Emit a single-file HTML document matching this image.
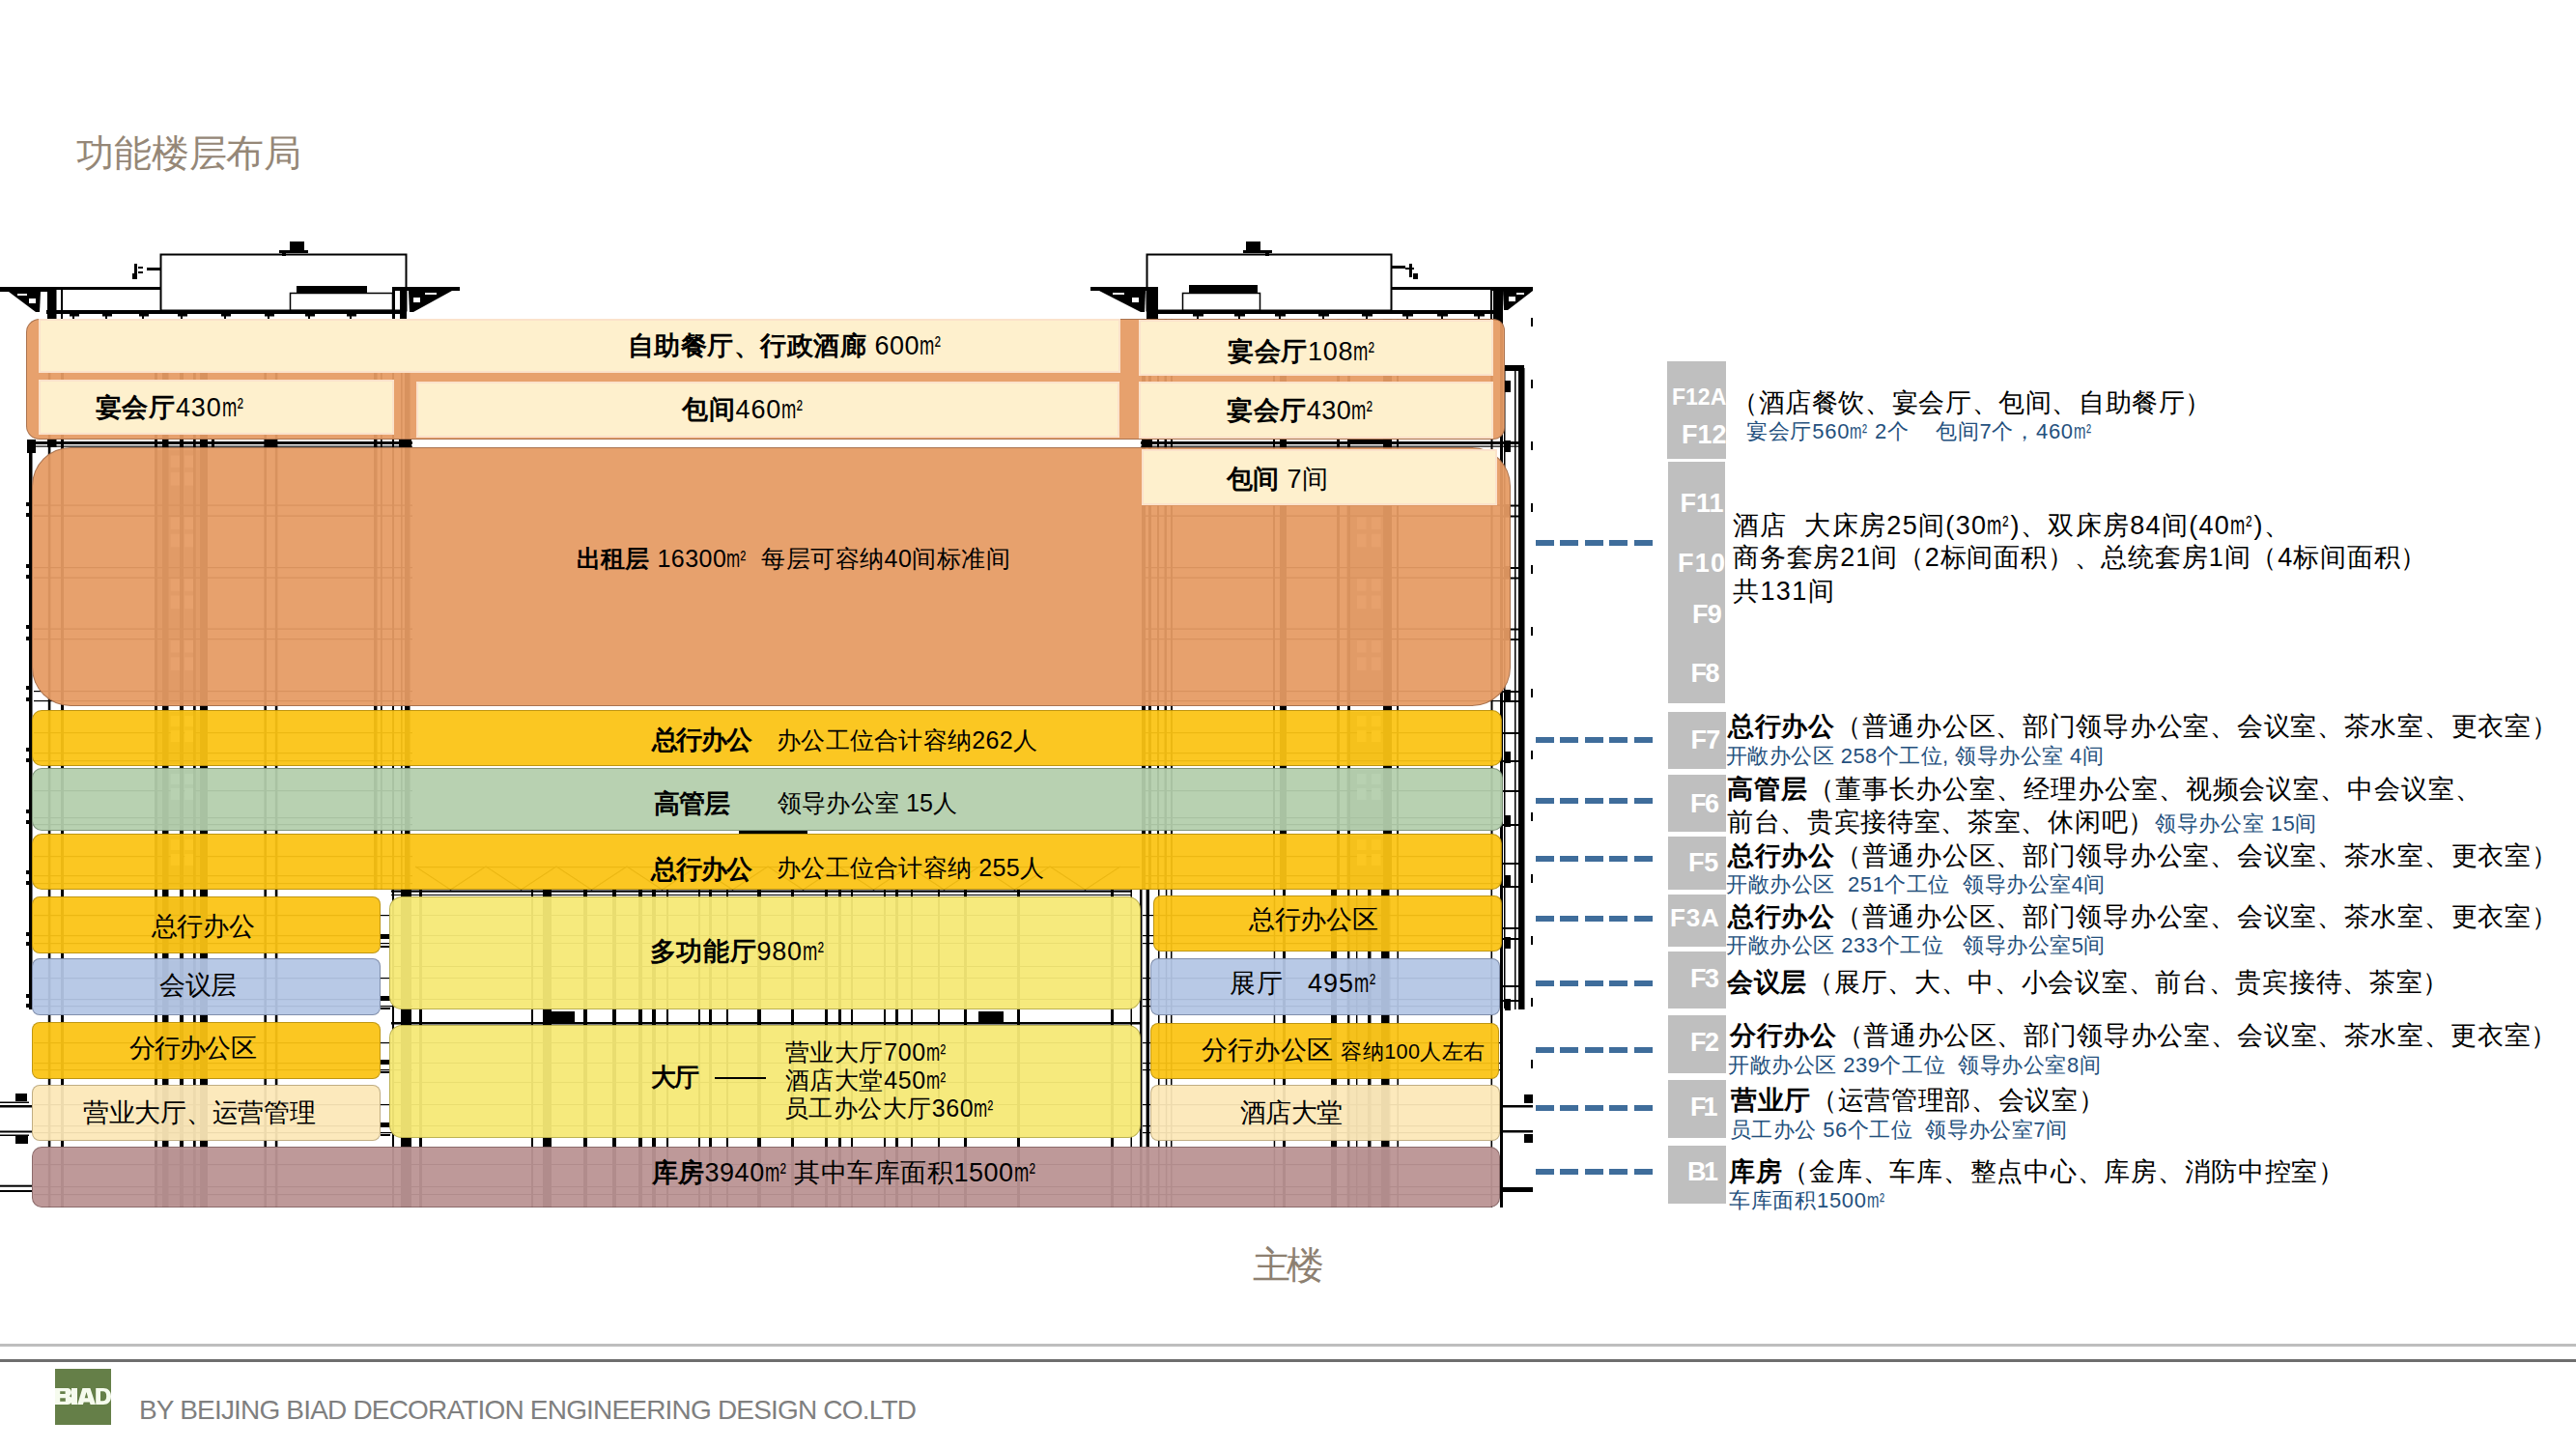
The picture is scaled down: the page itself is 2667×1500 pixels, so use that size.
<!DOCTYPE html>
<html><head><meta charset="utf-8">
<style>
html,body{margin:0;padding:0;}
body{width:2667px;height:1500px;position:relative;overflow:hidden;background:#fff;font-family:"Liberation Sans",sans-serif;color:#000;}
.a{position:absolute;}
.t{position:absolute;white-space:nowrap;line-height:1;}
.b{position:absolute;box-sizing:border-box;}
.or{background:rgba(230,155,100,0.94);border:1px solid rgba(110,70,50,0.5);}
.cr{background:#FEF0CD;border:2px solid #FBE2CB;}
.ye{background:rgba(251,195,20,0.94);border:1px solid rgba(120,90,0,0.45);}
.gr{background:rgba(180,206,172,0.94);border:1px solid rgba(60,80,60,0.45);}
.bl{background:rgba(180,198,228,0.94);border:1px solid rgba(60,70,100,0.45);}
.py{background:rgba(246,233,118,0.95);border:1px solid rgba(120,110,30,0.45);}
.lc{background:rgba(252,232,184,0.94);border:1px solid rgba(120,100,60,0.45);}
.mv{background:rgba(186,148,148,0.95);border:1px solid rgba(80,50,50,0.45);}
.gl{position:absolute;background:#BFBFBF;}
.FL{color:#fff;font-weight:bold;}
.BT,.bt{color:#24507D;}
.m2{display:inline-block;transform:scaleX(0.68);transform-origin:0 0;margin-right:-0.37em;font-family:"Liberation Sans",sans-serif;}
.dash{position:absolute;height:6px;width:121px;background:repeating-linear-gradient(90deg,#3F6D9B 0 18.8px,transparent 18.8px 25.5px);}
</style></head>
<body>
<svg class="a" style="left:0;top:0" width="2667" height="1500" viewBox="0 0 2667 1500"><g id="bld">
<rect x="0" y="297" width="166" height="3" fill="#000"/>
<rect x="406" y="297" width="70" height="3" fill="#000"/>
<rect x="0" y="297" width="58" height="5" fill="#000"/>
<path d="M9 302 L42 302 L41 323 L37 323 Z" fill="#000"/>
<rect x="30" y="309" width="7" height="5" fill="#fff"/>
<rect x="18" y="304" width="10" height="2" fill="#fff"/>
<rect x="49" y="297" width="9.5" height="35" fill="#000"/>
<rect x="63" y="300" width="2" height="32" fill="#000"/>
<rect x="166.5" y="263.5" width="254" height="58" fill="none" stroke="#000" stroke-width="2"/>
<rect x="48" y="321" width="373" height="4" fill="#000"/>
<rect x="406" y="297" width="3" height="35" fill="#000"/>
<rect x="414" y="297" width="7" height="35" fill="#000"/>
<rect x="300.5" y="303.5" width="106" height="18" fill="none" stroke="#000" stroke-width="1.5"/>
<rect x="307" y="296" width="73" height="7" fill="#000"/>
<rect x="289" y="259" width="30" height="3" fill="#000"/>
<rect x="300" y="250" width="15" height="10" fill="#000"/>
<rect x="292" y="262" width="4" height="3" fill="#000"/>
<rect x="139" y="273" width="3" height="16" fill="#000"/>
<rect x="143" y="276" width="5" height="2" fill="#000"/>
<rect x="143" y="281" width="5" height="2" fill="#000"/>
<rect x="152" y="277" width="14" height="3" fill="#000"/>
<rect x="137" y="283" width="3" height="6" fill="#000"/>
<rect x="406" y="297" width="70" height="4" fill="#000"/>
<path d="M468 301 L423 301 L424 323 L428 323 Z" fill="#000"/>
<rect x="428" y="308" width="7" height="5" fill="#fff"/>
<rect x="440" y="303" width="12" height="2" fill="#fff"/>
<rect x="72" y="325" width="10" height="2.5" fill="#000"/>
<rect x="75" y="325" width="2" height="5" fill="#000"/>
<rect x="106" y="325" width="10" height="2.5" fill="#000"/>
<rect x="109" y="325" width="2" height="5" fill="#000"/>
<rect x="144" y="325" width="10" height="2.5" fill="#000"/>
<rect x="147" y="325" width="2" height="5" fill="#000"/>
<rect x="184" y="325" width="10" height="2.5" fill="#000"/>
<rect x="187" y="325" width="2" height="5" fill="#000"/>
<rect x="229" y="325" width="10" height="2.5" fill="#000"/>
<rect x="232" y="325" width="2" height="5" fill="#000"/>
<rect x="274" y="325" width="10" height="2.5" fill="#000"/>
<rect x="277" y="325" width="2" height="5" fill="#000"/>
<rect x="316" y="325" width="10" height="2.5" fill="#000"/>
<rect x="319" y="325" width="2" height="5" fill="#000"/>
<rect x="359" y="325" width="10" height="2.5" fill="#000"/>
<rect x="362" y="325" width="2" height="5" fill="#000"/>
<rect x="1129" y="297" width="58" height="3" fill="#000"/>
<rect x="1441" y="297" width="144" height="3" fill="#000"/>
<rect x="1129" y="297" width="58" height="4" fill="#000"/>
<path d="M1138 301 L1186 301 L1185 323 L1181 323 Z" fill="#000"/>
<rect x="1172" y="308" width="7" height="5" fill="#fff"/>
<rect x="1152" y="303" width="12" height="2" fill="#fff"/>
<rect x="1187" y="297" width="12" height="35" fill="#000"/>
<rect x="1187.5" y="263.5" width="253" height="58" fill="none" stroke="#000" stroke-width="2"/>
<rect x="1187" y="321" width="369" height="4" fill="#000"/>
<rect x="1224.5" y="303.5" width="80" height="18" fill="none" stroke="#000" stroke-width="1.5"/>
<rect x="1231" y="295" width="71" height="8" fill="#000"/>
<rect x="1287" y="259" width="30" height="3" fill="#000"/>
<rect x="1290" y="250" width="15" height="10" fill="#000"/>
<rect x="1310" y="262" width="4" height="3" fill="#000"/>
<rect x="1441" y="275" width="14" height="3" fill="#000"/>
<rect x="1459" y="273" width="3" height="14" fill="#000"/>
<rect x="1455" y="277" width="9" height="2" fill="#000"/>
<rect x="1463" y="283" width="5" height="6" fill="#000"/>
<rect x="1543" y="300" width="2" height="32" fill="#000"/>
<rect x="1546" y="297" width="10" height="35" fill="#000"/>
<rect x="1543" y="297" width="44" height="4" fill="#000"/>
<path d="M1587 301 L1556 301 L1557 321 L1561 321 Z" fill="#000"/>
<rect x="1562" y="307" width="7" height="5" fill="#fff"/>
<rect x="1570" y="303" width="8" height="2" fill="#fff"/>
<rect x="1235" y="325" width="11" height="2.5" fill="#000"/>
<rect x="1239" y="325" width="2" height="5" fill="#000"/>
<rect x="1278" y="325" width="11" height="2.5" fill="#000"/>
<rect x="1282" y="325" width="2" height="5" fill="#000"/>
<rect x="1320" y="325" width="11" height="2.5" fill="#000"/>
<rect x="1324" y="325" width="2" height="5" fill="#000"/>
<rect x="1365" y="325" width="11" height="2.5" fill="#000"/>
<rect x="1369" y="325" width="2" height="5" fill="#000"/>
<rect x="1410" y="325" width="11" height="2.5" fill="#000"/>
<rect x="1414" y="325" width="2" height="5" fill="#000"/>
<rect x="1452" y="325" width="11" height="2.5" fill="#000"/>
<rect x="1456" y="325" width="2" height="5" fill="#000"/>
<rect x="1488" y="325" width="11" height="2.5" fill="#000"/>
<rect x="1492" y="325" width="2" height="5" fill="#000"/>
<rect x="1526" y="325" width="11" height="2.5" fill="#000"/>
<rect x="1530" y="325" width="2" height="5" fill="#000"/>
<rect x="30" y="455" width="3.5" height="590" fill="#000"/>
<rect x="28" y="455" width="9" height="14" fill="#000"/>
<rect x="27" y="520" width="3" height="4" fill="#000"/>
<rect x="27" y="531" width="3" height="4" fill="#000"/>
<rect x="27" y="584" width="3" height="4" fill="#000"/>
<rect x="27" y="595" width="3" height="4" fill="#000"/>
<rect x="27" y="647" width="3" height="4" fill="#000"/>
<rect x="27" y="659" width="3" height="4" fill="#000"/>
<rect x="27" y="710" width="3" height="4" fill="#000"/>
<rect x="27" y="722" width="3" height="4" fill="#000"/>
<rect x="27" y="774" width="3" height="4" fill="#000"/>
<rect x="27" y="785" width="3" height="4" fill="#000"/>
<rect x="27" y="838" width="3" height="4" fill="#000"/>
<rect x="27" y="849" width="3" height="4" fill="#000"/>
<rect x="27" y="901" width="3" height="4" fill="#000"/>
<rect x="27" y="912" width="3" height="4" fill="#000"/>
<rect x="27" y="965" width="3" height="4" fill="#000"/>
<rect x="27" y="975" width="3" height="4" fill="#000"/>
<rect x="27" y="1029" width="3" height="4" fill="#000"/>
<rect x="27" y="1039" width="3" height="4" fill="#000"/>
<rect x="1572" y="381" width="6.5" height="664" fill="#000"/>
<rect x="1568" y="381" width="1.5" height="664" fill="#000"/>
<rect x="1558" y="378" width="20" height="6" fill="#000"/>
<rect x="1553" y="330" width="3" height="920" fill="#000"/>
<rect x="1585" y="329" width="2" height="9" fill="#000"/>
<rect x="1585" y="393" width="2" height="9" fill="#000"/>
<rect x="1585" y="457" width="2" height="9" fill="#000"/>
<rect x="1585" y="521" width="2" height="9" fill="#000"/>
<rect x="1585" y="585" width="2" height="9" fill="#000"/>
<rect x="1585" y="649" width="2" height="9" fill="#000"/>
<rect x="1585" y="713" width="2" height="9" fill="#000"/>
<rect x="1585" y="777" width="2" height="9" fill="#000"/>
<rect x="1585" y="841" width="2" height="9" fill="#000"/>
<rect x="1585" y="905" width="2" height="9" fill="#000"/>
<rect x="1585" y="969" width="2" height="9" fill="#000"/>
<rect x="1585" y="1033" width="2" height="9" fill="#000"/>
<rect x="1585" y="1097" width="2" height="9" fill="#000"/>
<rect x="30" y="457" width="397" height="3" fill="#000"/>
<rect x="30" y="461.5" width="397" height="1.2" fill="#000"/>
<rect x="1181" y="457" width="397" height="3" fill="#000"/>
<rect x="1181" y="461.5" width="397" height="1.2" fill="#000"/>
<rect x="1398" y="455" width="43" height="3" fill="#000"/>
<rect x="765" y="859.5" width="71" height="3.5" fill="#000"/>
<rect x="405" y="921.5" width="767" height="2.2" fill="#000"/>
<rect x="405" y="926" width="767" height="1" fill="#000"/>
<rect x="405" y="1058" width="776" height="2.5" fill="#000"/>
<rect x="563" y="1047" width="32" height="11" fill="#000"/>
<rect x="1013" y="1047" width="26" height="11" fill="#000"/>
<polyline points="430,897 466.5,921 503.0,897 539.5,921 576.0,897 612.5,921 649.0,897 685.5,921 722.0,897 758.5,921 795.0,897 831.5,921 868.0,897 904.5,921 941.0,897 977.5,921 1014.0,897 1050.5,921 1087.0,897 1123.5,921 1160.0,897" fill="none" stroke="#000" stroke-width="1.2"/>
<rect x="430" y="897" width="750" height="1.2" fill="#000"/>
<rect x="35" y="522.5" width="392" height="1.2" fill="#000"/>
<rect x="1183" y="522.5" width="373" height="1.2" fill="#000"/>
<rect x="35" y="533.5" width="392" height="1.2" fill="#000"/>
<rect x="1183" y="533.5" width="373" height="1.2" fill="#000"/>
<rect x="35" y="587" width="392" height="1.2" fill="#000"/>
<rect x="1183" y="587" width="373" height="1.2" fill="#000"/>
<rect x="35" y="597.5" width="392" height="1.2" fill="#000"/>
<rect x="1183" y="597.5" width="373" height="1.2" fill="#000"/>
<rect x="35" y="650.5" width="392" height="1.2" fill="#000"/>
<rect x="1183" y="650.5" width="373" height="1.2" fill="#000"/>
<rect x="35" y="661" width="392" height="1.2" fill="#000"/>
<rect x="1183" y="661" width="373" height="1.2" fill="#000"/>
<rect x="35" y="715" width="392" height="1.2" fill="#000"/>
<rect x="1183" y="715" width="373" height="1.2" fill="#000"/>
<rect x="35" y="725" width="392" height="1.2" fill="#000"/>
<rect x="1183" y="725" width="373" height="1.2" fill="#000"/>
<rect x="35" y="758" width="392" height="1.2" fill="#000"/>
<rect x="1183" y="758" width="373" height="1.2" fill="#000"/>
<rect x="35" y="779" width="392" height="1.2" fill="#000"/>
<rect x="1183" y="779" width="373" height="1.2" fill="#000"/>
<rect x="35" y="787" width="392" height="1.2" fill="#000"/>
<rect x="1183" y="787" width="373" height="1.2" fill="#000"/>
<rect x="35" y="818" width="392" height="1.2" fill="#000"/>
<rect x="1183" y="818" width="373" height="1.2" fill="#000"/>
<rect x="35" y="846" width="392" height="1.2" fill="#000"/>
<rect x="1183" y="846" width="373" height="1.2" fill="#000"/>
<rect x="35" y="853" width="392" height="1.2" fill="#000"/>
<rect x="1183" y="853" width="373" height="1.2" fill="#000"/>
<rect x="35" y="886" width="392" height="1.2" fill="#000"/>
<rect x="1183" y="886" width="373" height="1.2" fill="#000"/>
<rect x="35" y="906" width="392" height="1.2" fill="#000"/>
<rect x="1183" y="906" width="373" height="1.2" fill="#000"/>
<rect x="35" y="914" width="392" height="1.2" fill="#000"/>
<rect x="1183" y="914" width="373" height="1.2" fill="#000"/>
<rect x="35" y="947" width="392" height="1.2" fill="#000"/>
<rect x="1183" y="947" width="373" height="1.2" fill="#000"/>
<rect x="35" y="968" width="392" height="1.2" fill="#000"/>
<rect x="1183" y="968" width="373" height="1.2" fill="#000"/>
<rect x="35" y="976" width="392" height="1.2" fill="#000"/>
<rect x="1183" y="976" width="373" height="1.2" fill="#000"/>
<rect x="35" y="1012" width="392" height="1.2" fill="#000"/>
<rect x="1183" y="1012" width="373" height="1.2" fill="#000"/>
<rect x="35" y="1034" width="392" height="1.2" fill="#000"/>
<rect x="1183" y="1034" width="373" height="1.2" fill="#000"/>
<rect x="35" y="1041" width="392" height="1.2" fill="#000"/>
<rect x="1183" y="1041" width="373" height="1.2" fill="#000"/>
<rect x="35" y="1079" width="392" height="1.2" fill="#000"/>
<rect x="1183" y="1079" width="373" height="1.2" fill="#000"/>
<rect x="35" y="1100" width="392" height="1.2" fill="#000"/>
<rect x="1183" y="1100" width="373" height="1.2" fill="#000"/>
<rect x="35" y="1107" width="392" height="1.2" fill="#000"/>
<rect x="1183" y="1107" width="373" height="1.2" fill="#000"/>
<rect x="35" y="1143" width="392" height="1.2" fill="#000"/>
<rect x="1183" y="1143" width="373" height="1.2" fill="#000"/>
<rect x="35" y="1165" width="392" height="1.2" fill="#000"/>
<rect x="1183" y="1165" width="373" height="1.2" fill="#000"/>
<rect x="35" y="1172" width="392" height="1.2" fill="#000"/>
<rect x="1183" y="1172" width="373" height="1.2" fill="#000"/>
<rect x="35" y="1205" width="392" height="1.2" fill="#000"/>
<rect x="1183" y="1205" width="373" height="1.2" fill="#000"/>
<rect x="35" y="1228" width="392" height="1.2" fill="#000"/>
<rect x="1183" y="1228" width="373" height="1.2" fill="#000"/>
<rect x="35" y="1236" width="392" height="1.2" fill="#000"/>
<rect x="1183" y="1236" width="373" height="1.2" fill="#000"/>
<rect x="407" y="947" width="774" height="1" fill="#000"/>
<rect x="407" y="968" width="774" height="1" fill="#000"/>
<rect x="407" y="976" width="774" height="1" fill="#000"/>
<rect x="407" y="1000" width="774" height="1" fill="#000"/>
<rect x="407" y="1012" width="774" height="1" fill="#000"/>
<rect x="407" y="1034" width="774" height="1" fill="#000"/>
<rect x="407" y="1079" width="774" height="1" fill="#000"/>
<rect x="407" y="1100" width="774" height="1" fill="#000"/>
<rect x="407" y="1120" width="774" height="1" fill="#000"/>
<rect x="407" y="1143" width="774" height="1" fill="#000"/>
<rect x="407" y="1165" width="774" height="1" fill="#000"/>
<rect x="407" y="1205" width="774" height="1" fill="#000"/>
<rect x="407" y="1228" width="774" height="1" fill="#000"/>
<rect x="407" y="1236" width="774" height="1" fill="#000"/>
<rect x="162" y="466" width="52" height="263" fill="#000" fill-opacity="0.4"/>
<rect x="1394" y="466" width="46" height="263" fill="#000" fill-opacity="0.4"/>
<rect x="162" y="737" width="52" height="54" fill="#000" fill-opacity="0.4"/>
<rect x="1394" y="737" width="46" height="54" fill="#000" fill-opacity="0.4"/>
<rect x="162" y="797" width="52" height="61" fill="#000" fill-opacity="0.4"/>
<rect x="1394" y="797" width="46" height="61" fill="#000" fill-opacity="0.4"/>
<rect x="162" y="865" width="52" height="54" fill="#000" fill-opacity="0.4"/>
<rect x="1394" y="865" width="46" height="54" fill="#000" fill-opacity="0.4"/>
<rect x="162" y="930" width="52" height="55" fill="#000" fill-opacity="0.4"/>
<rect x="1394" y="930" width="46" height="55" fill="#000" fill-opacity="0.4"/>
<rect x="162" y="994" width="52" height="55" fill="#000" fill-opacity="0.4"/>
<rect x="1394" y="994" width="46" height="55" fill="#000" fill-opacity="0.4"/>
<rect x="162" y="1060" width="52" height="55" fill="#000" fill-opacity="0.4"/>
<rect x="1394" y="1060" width="46" height="55" fill="#000" fill-opacity="0.4"/>
<rect x="162" y="1125" width="52" height="54" fill="#000" fill-opacity="0.4"/>
<rect x="1394" y="1125" width="46" height="54" fill="#000" fill-opacity="0.4"/>
<rect x="162" y="1189" width="52" height="59" fill="#000" fill-opacity="0.4"/>
<rect x="1394" y="1189" width="46" height="59" fill="#000" fill-opacity="0.4"/>
<rect x="176.7" y="471.6" width="9.5" height="12.4" fill="#fff"/>
<rect x="191.2" y="471.6" width="9.5" height="12.4" fill="#fff"/>
<rect x="1405" y="471.6" width="9.5" height="12.4" fill="#fff"/>
<rect x="1420" y="471.6" width="9.5" height="12.4" fill="#fff"/>
<rect x="176.7" y="489.0" width="9.5" height="13.5" fill="#fff"/>
<rect x="191.2" y="489.0" width="9.5" height="13.5" fill="#fff"/>
<rect x="1405" y="489.0" width="9.5" height="13.5" fill="#fff"/>
<rect x="1420" y="489.0" width="9.5" height="13.5" fill="#fff"/>
<rect x="176.7" y="535.4" width="9.5" height="12.4" fill="#fff"/>
<rect x="191.2" y="535.4" width="9.5" height="12.4" fill="#fff"/>
<rect x="1405" y="535.4" width="9.5" height="12.4" fill="#fff"/>
<rect x="1420" y="535.4" width="9.5" height="12.4" fill="#fff"/>
<rect x="176.7" y="552.8" width="9.5" height="13.5" fill="#fff"/>
<rect x="191.2" y="552.8" width="9.5" height="13.5" fill="#fff"/>
<rect x="1405" y="552.8" width="9.5" height="13.5" fill="#fff"/>
<rect x="1420" y="552.8" width="9.5" height="13.5" fill="#fff"/>
<rect x="176.7" y="599.2" width="9.5" height="12.4" fill="#fff"/>
<rect x="191.2" y="599.2" width="9.5" height="12.4" fill="#fff"/>
<rect x="1405" y="599.2" width="9.5" height="12.4" fill="#fff"/>
<rect x="1420" y="599.2" width="9.5" height="12.4" fill="#fff"/>
<rect x="176.7" y="616.6" width="9.5" height="13.5" fill="#fff"/>
<rect x="191.2" y="616.6" width="9.5" height="13.5" fill="#fff"/>
<rect x="1405" y="616.6" width="9.5" height="13.5" fill="#fff"/>
<rect x="1420" y="616.6" width="9.5" height="13.5" fill="#fff"/>
<rect x="176.7" y="663.0" width="9.5" height="12.4" fill="#fff"/>
<rect x="191.2" y="663.0" width="9.5" height="12.4" fill="#fff"/>
<rect x="1405" y="663.0" width="9.5" height="12.4" fill="#fff"/>
<rect x="1420" y="663.0" width="9.5" height="12.4" fill="#fff"/>
<rect x="176.7" y="680.4" width="9.5" height="13.5" fill="#fff"/>
<rect x="191.2" y="680.4" width="9.5" height="13.5" fill="#fff"/>
<rect x="1405" y="680.4" width="9.5" height="13.5" fill="#fff"/>
<rect x="1420" y="680.4" width="9.5" height="13.5" fill="#fff"/>
<rect x="176.7" y="741" width="9.5" height="11" fill="#fff"/>
<rect x="191.2" y="741" width="9.5" height="11" fill="#fff"/>
<rect x="1405" y="741" width="9.5" height="11" fill="#fff"/>
<rect x="1420" y="741" width="9.5" height="11" fill="#fff"/>
<rect x="176.7" y="756" width="9.5" height="12" fill="#fff"/>
<rect x="191.2" y="756" width="9.5" height="12" fill="#fff"/>
<rect x="1405" y="756" width="9.5" height="12" fill="#fff"/>
<rect x="1420" y="756" width="9.5" height="12" fill="#fff"/>
<rect x="176.7" y="801" width="9.5" height="11" fill="#fff"/>
<rect x="191.2" y="801" width="9.5" height="11" fill="#fff"/>
<rect x="1405" y="801" width="9.5" height="11" fill="#fff"/>
<rect x="1420" y="801" width="9.5" height="11" fill="#fff"/>
<rect x="176.7" y="816" width="9.5" height="12" fill="#fff"/>
<rect x="191.2" y="816" width="9.5" height="12" fill="#fff"/>
<rect x="1405" y="816" width="9.5" height="12" fill="#fff"/>
<rect x="1420" y="816" width="9.5" height="12" fill="#fff"/>
<rect x="176.7" y="869" width="9.5" height="11" fill="#fff"/>
<rect x="191.2" y="869" width="9.5" height="11" fill="#fff"/>
<rect x="1405" y="869" width="9.5" height="11" fill="#fff"/>
<rect x="1420" y="869" width="9.5" height="11" fill="#fff"/>
<rect x="176.7" y="884" width="9.5" height="12" fill="#fff"/>
<rect x="191.2" y="884" width="9.5" height="12" fill="#fff"/>
<rect x="1405" y="884" width="9.5" height="12" fill="#fff"/>
<rect x="1420" y="884" width="9.5" height="12" fill="#fff"/>
<rect x="49.8" y="330" width="2.6" height="920" fill="#000"/>
<rect x="63" y="330" width="3" height="920" fill="#000"/>
<rect x="160" y="330" width="3" height="920" fill="#000"/>
<rect x="168" y="330" width="6.5" height="920" fill="#000"/>
<rect x="186" y="330" width="4" height="920" fill="#000"/>
<rect x="200" y="330" width="2.7" height="920" fill="#000"/>
<rect x="207" y="330" width="8" height="920" fill="#000"/>
<rect x="273.4" y="330" width="2.6" height="920" fill="#000"/>
<rect x="284.8" y="330" width="2.6" height="920" fill="#000"/>
<rect x="406" y="330" width="2" height="920" fill="#000"/>
<rect x="387" y="330" width="3.5" height="591" fill="#000"/>
<rect x="394" y="330" width="1.7" height="591" fill="#000"/>
<rect x="415" y="330" width="1.6" height="591" fill="#000"/>
<rect x="419" y="330" width="5.5" height="591" fill="#000"/>
<rect x="394" y="967" width="10" height="5" fill="#000"/>
<rect x="394" y="979" width="10" height="2" fill="#000"/>
<rect x="394" y="1031" width="10" height="5" fill="#000"/>
<rect x="394" y="1043" width="10" height="2" fill="#000"/>
<rect x="394" y="1097" width="10" height="5" fill="#000"/>
<rect x="394" y="1109" width="10" height="2" fill="#000"/>
<rect x="394" y="1162" width="10" height="5" fill="#000"/>
<rect x="394" y="1174" width="10" height="2" fill="#000"/>
<rect x="49" y="455" width="9.5" height="8" fill="#000"/>
<rect x="219" y="455" width="3" height="8" fill="#000"/>
<rect x="274" y="455" width="13" height="8" fill="#000"/>
<rect x="413" y="455" width="13" height="8" fill="#000"/>
<rect x="1182" y="330" width="4" height="591" fill="#000"/>
<rect x="1189" y="330" width="3" height="591" fill="#000"/>
<rect x="1198" y="330" width="2" height="591" fill="#000"/>
<rect x="1205.5" y="330" width="2.5" height="591" fill="#000"/>
<rect x="1212" y="330" width="2" height="591" fill="#000"/>
<rect x="1318" y="330" width="2" height="591" fill="#000"/>
<rect x="1325" y="330" width="7" height="591" fill="#000"/>
<rect x="1384" y="330" width="3" height="591" fill="#000"/>
<rect x="1395" y="330" width="3" height="591" fill="#000"/>
<rect x="1432" y="330" width="9" height="591" fill="#000"/>
<rect x="1446" y="330" width="2" height="591" fill="#000"/>
<rect x="1543.5" y="330" width="2" height="591" fill="#000"/>
<rect x="1170.5" y="921" width="1.5" height="329" fill="#000"/>
<rect x="1180" y="921" width="2.5" height="329" fill="#000"/>
<rect x="1186.6" y="921" width="3.4" height="329" fill="#000"/>
<rect x="1199" y="921" width="1.5" height="329" fill="#000"/>
<rect x="1206.8" y="921" width="1.5" height="329" fill="#000"/>
<rect x="1212" y="921" width="1.5" height="329" fill="#000"/>
<rect x="1318.7" y="921" width="1.5" height="329" fill="#000"/>
<rect x="1328" y="921" width="3" height="329" fill="#000"/>
<rect x="1378" y="921" width="6" height="329" fill="#000"/>
<rect x="1395" y="921" width="2.4" height="329" fill="#000"/>
<rect x="1404" y="921" width="1.4" height="329" fill="#000"/>
<rect x="1416" y="921" width="3.5" height="329" fill="#000"/>
<rect x="1430" y="921" width="8.5" height="329" fill="#000"/>
<rect x="1446.4" y="921" width="1.6" height="329" fill="#000"/>
<rect x="1543.5" y="921" width="1.6" height="329" fill="#000"/>
<rect x="1182" y="455" width="11" height="8" fill="#000"/>
<rect x="406" y="921" width="2" height="329" fill="#000"/>
<rect x="415" y="921" width="11" height="329" fill="#000"/>
<rect x="434" y="921" width="3" height="329" fill="#000"/>
<rect x="550" y="921" width="2" height="329" fill="#000"/>
<rect x="562" y="921" width="9" height="329" fill="#000"/>
<rect x="604" y="921" width="4" height="329" fill="#000"/>
<rect x="634" y="921" width="4" height="329" fill="#000"/>
<rect x="661" y="921" width="4" height="329" fill="#000"/>
<rect x="675" y="921" width="4" height="329" fill="#000"/>
<rect x="690" y="921" width="2" height="329" fill="#000"/>
<rect x="723" y="921" width="2" height="329" fill="#000"/>
<rect x="734" y="921" width="3" height="329" fill="#000"/>
<rect x="752" y="921" width="2" height="329" fill="#000"/>
<rect x="784" y="921" width="4" height="329" fill="#000"/>
<rect x="819" y="921" width="3" height="329" fill="#000"/>
<rect x="854" y="921" width="3" height="329" fill="#000"/>
<rect x="868" y="921" width="3" height="329" fill="#000"/>
<rect x="881" y="921" width="2" height="329" fill="#000"/>
<rect x="915" y="921" width="2" height="329" fill="#000"/>
<rect x="927" y="921" width="3" height="329" fill="#000"/>
<rect x="943" y="921" width="2" height="329" fill="#000"/>
<rect x="971" y="921" width="2" height="329" fill="#000"/>
<rect x="998" y="921" width="3" height="329" fill="#000"/>
<rect x="1053" y="921" width="3" height="329" fill="#000"/>
<rect x="1150" y="921" width="3" height="329" fill="#000"/>
<rect x="0" y="1140.5" width="30" height="1.5" fill="#000"/>
<rect x="0" y="1144" width="33" height="2.5" fill="#000"/>
<rect x="16" y="1132" width="12" height="8" fill="#000"/>
<rect x="0" y="1170.5" width="33" height="2" fill="#000"/>
<rect x="0" y="1174.5" width="30" height="1.5" fill="#000"/>
<rect x="16" y="1176" width="13" height="8" fill="#000"/>
<rect x="0" y="1226.7" width="33" height="2" fill="#000"/>
<rect x="0" y="1232" width="33" height="2" fill="#000"/>
<rect x="1556" y="1144" width="31" height="2.5" fill="#000"/>
<rect x="1556" y="1170" width="31" height="2.5" fill="#000"/>
<rect x="1578" y="1133" width="9" height="9" fill="#000"/>
<rect x="1578" y="1174" width="9" height="9" fill="#000"/>
<rect x="1553" y="1229" width="34" height="5" fill="#000"/>
<rect x="1556" y="522.5" width="16" height="2" fill="#000"/>
<rect x="1556" y="533.5" width="16" height="2" fill="#000"/>
<rect x="1556" y="587" width="16" height="2" fill="#000"/>
<rect x="1556" y="597.5" width="16" height="2" fill="#000"/>
<rect x="1556" y="650.5" width="16" height="2" fill="#000"/>
<rect x="1556" y="661" width="16" height="2" fill="#000"/>
<rect x="1556" y="715" width="16" height="2" fill="#000"/>
<rect x="1556" y="725" width="16" height="2" fill="#000"/>
<rect x="1556" y="758" width="16" height="2" fill="#000"/>
<rect x="1556" y="787" width="16" height="2" fill="#000"/>
<rect x="1556" y="818" width="16" height="2" fill="#000"/>
<rect x="1556" y="853" width="16" height="2" fill="#000"/>
<rect x="1556" y="893" width="16" height="2" fill="#000"/>
<rect x="1556" y="917" width="16" height="2" fill="#000"/>
<rect x="1556" y="960" width="16" height="2" fill="#000"/>
<rect x="1556" y="971" width="16" height="2" fill="#000"/>
<rect x="1556" y="1020" width="16" height="2" fill="#000"/>
<rect x="1556" y="1035" width="16" height="2" fill="#000"/>
<rect x="1557" y="381" width="1.5" height="663" fill="#000"/>
<rect x="1558" y="394" width="6" height="12" fill="#000"/>
<rect x="1558" y="456" width="6" height="12" fill="#000"/>
<rect x="1558" y="522" width="6" height="12" fill="#000"/>
<rect x="1558" y="586" width="6" height="12" fill="#000"/>
<rect x="1558" y="650" width="6" height="12" fill="#000"/>
<rect x="1558" y="714" width="6" height="12" fill="#000"/>
<rect x="1558" y="778" width="6" height="12" fill="#000"/>
<rect x="1558" y="844" width="6" height="12" fill="#000"/>
<rect x="1558" y="906" width="6" height="12" fill="#000"/>
<rect x="1558" y="970" width="6" height="12" fill="#000"/>
<rect x="1558" y="1034" width="6" height="12" fill="#000"/>
</g></svg>

<!-- F12 band -->
<div class="b or" style="left:27px;top:330px;width:1531px;height:125px;border-radius:14px 12px 12px 14px;"></div>
<div class="b cr" style="left:40px;top:330px;width:1120px;height:56px;"></div>
<div class="b cr" style="left:1179px;top:331px;width:367px;height:58px;"></div>
<div class="b cr" style="left:40px;top:393px;width:368px;height:57px;"></div>
<div class="b cr" style="left:431px;top:395px;width:728px;height:58px;"></div>
<div class="b cr" style="left:1179px;top:395px;width:367px;height:59px;"></div>
<!-- rental band -->
<div class="b or" style="left:33px;top:463px;width:1531px;height:268px;border-radius:40px;"></div>
<div class="b cr" style="left:1182px;top:465px;width:368px;height:58px;"></div>
<!-- office bands -->
<div class="b ye" style="left:33px;top:735px;width:1522px;height:58px;border-radius:10px;"></div>
<div class="b gr" style="left:33px;top:795px;width:1523px;height:65px;border-radius:10px;"></div>
<div class="b ye" style="left:33px;top:863px;width:1522px;height:58px;border-radius:10px;"></div>
<!-- left column -->
<div class="b ye" style="left:33px;top:928px;width:361px;height:59px;border-radius:8px;"></div>
<div class="b bl" style="left:33px;top:992px;width:361px;height:59px;border-radius:8px;"></div>
<div class="b ye" style="left:33px;top:1058px;width:361px;height:59px;border-radius:8px;"></div>
<div class="b lc" style="left:33px;top:1123px;width:361px;height:58px;border-radius:8px;"></div>
<!-- middle column -->
<div class="b py" style="left:403px;top:928px;width:778px;height:117px;border-radius:13px;"></div>
<div class="b py" style="left:403px;top:1061px;width:778px;height:117px;border-radius:13px;"></div>
<!-- right column -->
<div class="b ye" style="left:1194px;top:927px;width:361px;height:58px;border-radius:8px;"></div>
<div class="b bl" style="left:1191px;top:992px;width:362px;height:59px;border-radius:8px;"></div>
<div class="b ye" style="left:1191px;top:1059px;width:361px;height:58px;border-radius:8px;"></div>
<div class="b lc" style="left:1191px;top:1123px;width:362px;height:58px;border-radius:8px;"></div>
<!-- basement -->
<div class="b mv" style="left:33px;top:1187px;width:1520px;height:63px;border-radius:10px;"></div>
<div class="a" style="left:740px;top:1115px;width:53px;height:2px;background:#000;"></div>
<div class="dash" style="left:1590px;top:559px;"></div>
<div class="dash" style="left:1590px;top:763px;"></div>
<div class="dash" style="left:1590px;top:826px;"></div>
<div class="dash" style="left:1590px;top:886px;"></div>
<div class="dash" style="left:1590px;top:948px;"></div>
<div class="dash" style="left:1590px;top:1015px;"></div>
<div class="dash" style="left:1590px;top:1084px;"></div>
<div class="dash" style="left:1590px;top:1144px;"></div>
<div class="dash" style="left:1590px;top:1210px;"></div>
<div class="gl" style="left:1726px;top:374px;width:61px;height:101px;"></div>
<div class="gl" style="left:1727px;top:478px;width:59px;height:134px;"></div>
<div class="gl" style="left:1727px;top:608px;width:59px;height:120px;"></div>
<div class="gl" style="left:1727px;top:737px;width:60px;height:59px;"></div>
<div class="gl" style="left:1727px;top:802px;width:60px;height:59px;"></div>
<div class="gl" style="left:1727px;top:866px;width:60px;height:55px;"></div>
<div class="gl" style="left:1727px;top:926px;width:60px;height:54px;"></div>
<div class="gl" style="left:1727px;top:985px;width:60px;height:59px;"></div>
<div class="gl" style="left:1727px;top:1051px;width:60px;height:60px;"></div>
<div class="gl" style="left:1727px;top:1118px;width:60px;height:60px;"></div>
<div class="gl" style="left:1727px;top:1186px;width:60px;height:60px;"></div>

<div class="a" style="left:0;top:1391px;width:2667px;height:3px;background:#BEBEBE;"></div>
<div class="a" style="left:0;top:1407px;width:2667px;height:3px;background:#6E6E6E;"></div>
<div class="a" style="left:57px;top:1417px;width:58px;height:58px;background:#657F48;"></div>
<svg class="a" style="left:0;top:0" width="2667" height="1500" viewBox="0 0 2667 1500"><g fill="#F6FBEE" fill-rule="evenodd">
<path d="M57 1437H69C72.6 1437 74 1439 74 1441.4C74 1443.2 73 1444.6 71.4 1445.1C73.6 1445.7 74.6 1447.3 74.6 1449.4C74.6 1452.4 72.5 1454 68.8 1454H57ZM62.2 1440.3H67.6V1442.9H62.2ZM62.2 1447.3H67.8V1450.7H62.2Z"/>
<path d="M74 1437H80V1454H74Z"/>
<path d="M80.2 1454L85.4 1437H93.4L99 1454H93.6L92.8 1451.4H86.7L85.9 1454ZM87.7 1447.3L89.5 1441L91.2 1447.3Z"/>
<path d="M99.2 1437H107C112 1437 115 1440 115 1445.5C115 1451 112 1454 107 1454H99.2ZM104 1440.3H106.4C109 1440.3 110.2 1442 110.2 1445.2C110.2 1448.4 109 1450.2 106.4 1450.2H104Z"/>
</g></svg>
<div class="t" id="title" style="left:79.00px;top:139.10px;font-size:39.00px;letter-spacing:-0.160px;color:#958777;">功能楼层布局</div>
<div class="t" id="t_zz" style="left:649.50px;top:345.02px;font-size:27.00px;letter-spacing:0.537px;"><b>自助餐厅、行政酒廊</b> 600<span class="m2">m²</span></div>
<div class="t" id="t_y108" style="left:1271.00px;top:351.42px;font-size:27.00px;letter-spacing:0.686px;"><b>宴会厅</b>108<span class="m2">m²</span></div>
<div class="t" id="t_y430L" style="left:98.50px;top:409.22px;font-size:27.00px;letter-spacing:0.823px;"><b>宴会厅</b>430<span class="m2">m²</span></div>
<div class="t" id="t_b460" style="left:706.00px;top:410.72px;font-size:27.00px;letter-spacing:0.800px;"><b>包间</b>460<span class="m2">m²</span></div>
<div class="t" id="t_y430R" style="left:1270.00px;top:412.22px;font-size:27.00px;letter-spacing:0.549px;"><b>宴会厅</b>430<span class="m2">m²</span></div>
<div class="t" id="t_b7" style="left:1270.00px;top:482.72px;font-size:27.00px;letter-spacing:0.320px;"><b>包间</b> 7间</div>
<div class="t" id="t_cz" style="left:596.50px;top:565.95px;font-size:25.00px;letter-spacing:0.487px;"><b>出租层</b> 16300<span class="m2">m²</span>&nbsp;&nbsp;每层可容纳40间标准间</div>
<div class="t" id="t_f7b" style="left:674.50px;top:753.22px;font-size:27.00px;letter-spacing:-1.173px;"><b>总行办公</b></div>
<div class="t" id="t_f7r" style="left:804.00px;top:753.95px;font-size:25.00px;letter-spacing:0.291px;">办公工位合计容纳262人</div>
<div class="t" id="t_f6b" style="left:677.00px;top:819.22px;font-size:27.00px;letter-spacing:-1.040px;"><b>高管层</b></div>
<div class="t" id="t_f6r" style="left:805.00px;top:819.45px;font-size:25.00px;letter-spacing:0.180px;">领导办公室 15人</div>
<div class="t" id="t_f5b" style="left:674.00px;top:886.72px;font-size:27.00px;letter-spacing:-1.067px;"><b>总行办公</b></div>
<div class="t" id="t_f5r" style="left:804.00px;top:886.45px;font-size:25.00px;letter-spacing:0.267px;">办公工位合计容纳 255人</div>
<div class="t" id="t_zhL" style="left:156.50px;top:945.62px;font-size:27.00px;letter-spacing:-0.320px;">总行办公</div>
<div class="t" id="t_hyL" style="left:165.00px;top:1006.82px;font-size:27.00px;letter-spacing:-0.480px;">会议层</div>
<div class="t" id="t_fhL" style="left:133.50px;top:1071.62px;font-size:27.00px;letter-spacing:-0.720px;">分行办公区</div>
<div class="t" id="t_yyL" style="left:86.00px;top:1138.52px;font-size:27.00px;letter-spacing:-0.280px;">营业大厅、运营管理</div>
<div class="t" id="t_dgn" style="left:672.50px;top:972.22px;font-size:27.00px;letter-spacing:0.740px;"><b>多功能厅</b>980<span class="m2">m²</span></div>
<div class="t" id="t_dt" style="left:673.50px;top:1101.90px;font-size:26.00px;letter-spacing:-1.280px;"><b>大厅</b></div>
<div class="t" id="t_yy700" style="left:812.50px;top:1076.85px;font-size:25.00px;letter-spacing:0.660px;">营业大厅700<span class="m2">m²</span></div>
<div class="t" id="t_jd450" style="left:812.50px;top:1106.05px;font-size:25.00px;letter-spacing:0.660px;">酒店大堂450<span class="m2">m²</span></div>
<div class="t" id="t_yg360" style="left:811.50px;top:1135.45px;font-size:25.00px;letter-spacing:0.544px;">员工办公大厅360<span class="m2">m²</span></div>
<div class="t" id="t_zhR" style="left:1293.00px;top:939.12px;font-size:27.00px;letter-spacing:-0.360px;">总行办公区</div>
<div class="t" id="t_zt" style="left:1273.00px;top:1005.22px;font-size:27.00px;letter-spacing:0.924px;">展厅&nbsp;&nbsp;&nbsp;495<span class="m2">m²</span></div>
<div class="t" id="t_fhR" style="left:1243.50px;top:1074.02px;font-size:27.00px;letter-spacing:0.394px;">分行办公区 <span style="font-size:0.8em">容纳100人左右</span></div>
<div class="t" id="t_jdR" style="left:1284.00px;top:1139.32px;font-size:27.00px;letter-spacing:-0.533px;">酒店大堂</div>
<div class="t" id="t_kf" style="left:674.50px;top:1201.22px;font-size:27.00px;letter-spacing:0.520px;"><b>库房</b>3940<span class="m2">m²</span> 其中车库面积1500<span class="m2">m²</span></div>
<div class="t FL" id="l_F12A" style="left:1731.00px;top:400.10px;font-size:23.00px;">F12A</div>
<div class="t FL" id="l_F12" style="left:1741.00px;top:437.30px;font-size:27.00px;width:46.0px;overflow:hidden;">F12</div>
<div class="t FL" id="l_F11" style="left:1739.50px;top:508.10px;font-size:27.00px;">F11</div>
<div class="t FL" id="l_F10" style="left:1737.00px;top:570.10px;font-size:27.00px;letter-spacing:1.200px;">F10</div>
<div class="t FL" id="l_F9" style="left:1752.00px;top:623.00px;font-size:27.00px;letter-spacing:-0.800px;">F9</div>
<div class="t FL" id="l_F8" style="left:1750.50px;top:683.70px;font-size:27.00px;letter-spacing:-1.440px;">F8</div>
<div class="t FL" id="l_F7" style="left:1750.50px;top:752.60px;font-size:27.00px;letter-spacing:-0.640px;">F7</div>
<div class="t FL" id="l_F6" style="left:1750.00px;top:819.30px;font-size:27.00px;letter-spacing:-1.600px;">F6</div>
<div class="t FL" id="l_F5" style="left:1748.00px;top:880.10px;font-size:27.00px;letter-spacing:-0.160px;">F5</div>
<div class="t FL" id="l_F3A" style="left:1729.00px;top:936.80px;font-size:26.00px;letter-spacing:0.800px;">F3A</div>
<div class="t FL" id="l_F3" style="left:1750.00px;top:999.60px;font-size:27.00px;letter-spacing:-1.600px;">F3</div>
<div class="t FL" id="l_F2" style="left:1750.00px;top:1066.10px;font-size:27.00px;letter-spacing:-1.600px;">F2</div>
<div class="t FL" id="l_F1" style="left:1750.00px;top:1133.10px;font-size:27.00px;letter-spacing:-3.040px;">F1</div>
<div class="t FL" id="l_B1" style="left:1747.00px;top:1200.20px;font-size:27.00px;letter-spacing:-2.560px;">B1</div>
<div class="t" id="r_f12a" style="left:1793.00px;top:403.82px;font-size:27.00px;letter-spacing:0.612px;">（酒店餐饮、宴会厅、包间、自助餐厅）</div>
<div class="t BT" id="r_f12b" style="left:1808.00px;top:435.68px;font-size:22.00px;letter-spacing:0.733px;">宴会厅560<span class="m2">m²</span> 2个&nbsp;&nbsp;&nbsp;&nbsp;包间7个，460<span class="m2">m²</span></div>
<div class="t" id="r_h1" style="left:1794.00px;top:531.02px;font-size:27.00px;letter-spacing:1.330px;">酒店&nbsp;&nbsp;大床房25间(30<span class="m2">m²</span>)、双床房84间(40<span class="m2">m²</span>)、</div>
<div class="t" id="r_h2" style="left:1794.00px;top:564.02px;font-size:27.00px;letter-spacing:0.830px;">商务套房21间（2标间面积）、总统套房1间（4标间面积）</div>
<div class="t" id="r_h3" style="left:1794.00px;top:599.02px;font-size:27.00px;letter-spacing:1.400px;">共131间</div>
<div class="t" id="r_f7a" style="left:1789.00px;top:738.82px;font-size:27.00px;letter-spacing:0.725px;"><b>总行办公</b>（普通办公区、部门领导办公室、会议室、茶水室、更衣室）</div>
<div class="t BT" id="r_f7b" style="left:1787.00px;top:771.68px;font-size:22.00px;letter-spacing:0.442px;">开敞办公区 258个工位, 领导办公室 4间</div>
<div class="t" id="r_f6a" style="left:1788.00px;top:804.22px;font-size:27.00px;letter-spacing:0.919px;"><b>高管层</b>（董事长办公室、经理办公室、视频会议室、中会议室、</div>
<div class="t" id="r_f6b" style="left:1788.00px;top:837.92px;font-size:27.00px;letter-spacing:0.680px;">前台、贵宾接待室、茶室、休闲吧）<span class="bt" style="font-size:0.8em">领导办公室 15间</span></div>
<div class="t" id="r_f5a" style="left:1789.00px;top:872.52px;font-size:27.00px;letter-spacing:0.725px;"><b>总行办公</b>（普通办公区、部门领导办公室、会议室、茶水室、更衣室）</div>
<div class="t BT" id="r_f5b" style="left:1787.00px;top:905.08px;font-size:22.00px;letter-spacing:0.526px;">开敞办公区&nbsp;&nbsp;251个工位&nbsp;&nbsp;领导办公室4间</div>
<div class="t" id="r_f3aa" style="left:1789.00px;top:935.62px;font-size:27.00px;letter-spacing:0.725px;"><b>总行办公</b>（普通办公区、部门领导办公室、会议室、茶水室、更衣室）</div>
<div class="t BT" id="r_f3ab" style="left:1787.00px;top:967.98px;font-size:22.00px;letter-spacing:0.526px;">开敞办公区 233个工位&nbsp;&nbsp;&nbsp;领导办公室5间</div>
<div class="t" id="r_f3" style="left:1788.00px;top:1003.82px;font-size:27.00px;letter-spacing:0.708px;"><b>会议层</b>（展厅、大、中、小会议室、前台、贵宾接待、茶室）</div>
<div class="t" id="r_f2a" style="left:1791.00px;top:1059.42px;font-size:27.00px;letter-spacing:0.645px;"><b>分行办公</b>（普通办公区、部门领导办公室、会议室、茶水室、更衣室）</div>
<div class="t BT" id="r_f2b" style="left:1789.00px;top:1091.78px;font-size:22.00px;letter-spacing:0.520px;">开敞办公区 239个工位&nbsp;&nbsp;领导办公室8间</div>
<div class="t" id="r_f1a" style="left:1792.00px;top:1125.62px;font-size:27.00px;letter-spacing:0.677px;"><b>营业厅</b>（运营管理部、会议室）</div>
<div class="t BT" id="r_f1b" style="left:1791.00px;top:1158.78px;font-size:22.00px;letter-spacing:0.444px;">员工办公 56个工位&nbsp;&nbsp;领导办公室7间</div>
<div class="t" id="r_b1a" style="left:1790.00px;top:1200.22px;font-size:27.00px;letter-spacing:0.735px;"><b>库房</b>（金库、车库、整点中心、库房、消防中控室）</div>
<div class="t BT" id="r_b1b" style="left:1790.00px;top:1232.28px;font-size:22.00px;letter-spacing:0.729px;">车库面积1500<span class="m2">m²</span></div>
<div class="t" id="cap" style="left:1296.50px;top:1289.61px;font-size:39.00px;letter-spacing:-3.200px;color:#8D8071;">主楼</div>
<div class="t" id="foot" style="left:144.00px;top:1445.60px;font-size:28.00px;letter-spacing:-0.813px;color:#7F7F7F;">BY BEIJING BIAD DECORATION ENGINEERING DESIGN CO.LTD</div>
</body></html>
